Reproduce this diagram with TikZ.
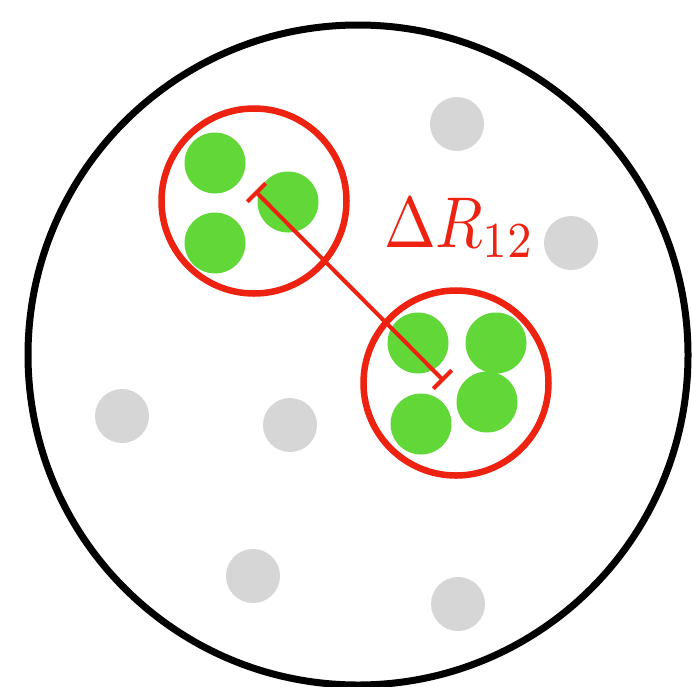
\documentclass[tikz,border=0pt]{standalone}
\usepackage{graphicx}
\usetikzlibrary{arrows.meta}
\definecolor{myred}{HTML}{EE2211}
\definecolor{mygreen}{HTML}{62D838}
\definecolor{mygray}{HTML}{D6D6D6}
\begin{document}
\begin{tikzpicture}[x=1pt,y=-1pt,
  gdot/.style={circle,fill=mygreen,minimum size=61pt,inner sep=0pt},
  pdot/.style={circle,fill=mygray,minimum size=54pt,inner sep=0pt},
  cluster/.style={draw=myred,line width=6.5pt}]
\useasboundingbox (0,0) rectangle (692,686);
\fill[white] (0,0) rectangle (692,686);
\draw[line width=7pt] (358,355) circle (330);
% gray dots
\node[pdot] (p1) at (457,124) {};
\node[pdot] (p2) at (571,243) {};
\node[pdot] (p3) at (122,416) {};
\node[pdot] (p4) at (290,425) {};
\node[pdot] (p5) at (253,576) {};
\node[pdot] (p6) at (458,604) {};
% green dots
\node[gdot] (g1) at (215,163) {};
\node[gdot] (g2) at (288,202) {};
\node[gdot] (g3) at (215,243) {};
\node[gdot] (g4) at (418,343) {};
\node[gdot] (g5) at (496,343) {};
\node[gdot] (g6) at (487,402) {};
\node[gdot] (g7) at (421,424) {};
% clusters
\draw[cluster] (254,201) circle (92.5);
\draw[cluster] (456,383) circle (92.5);
% distance
\coordinate (a) at (256.5,192.5);
\coordinate (b) at (442.5,379.5);
\draw[myred,line width=4pt,{Bar[width=26pt,line width=4pt]}-{Bar[width=26pt,line width=4pt]},shorten <=-2pt,shorten >=-2pt] (a) -- (b);
\node[anchor=base west,inner sep=0pt,text=myred] (lab) at (384,247)
  {\scalebox{6.2}[7.2]{$\Delta R_{12}$}};
\end{tikzpicture}
\end{document}
